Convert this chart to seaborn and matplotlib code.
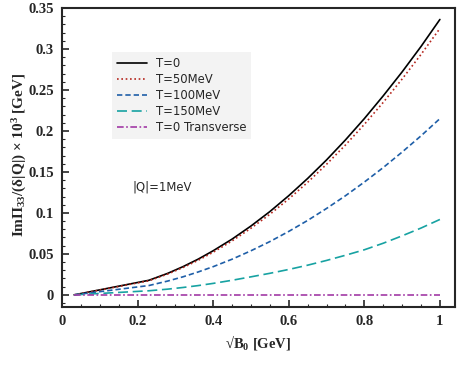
import numpy as np
import pandas as pd
import matplotlib
matplotlib.use("Agg")
import matplotlib.pyplot as plt
import seaborn as sns
from matplotlib.ticker import MultipleLocator

# ---- data ----
sqrtB0 = [0.032, 0.23, 0.28, 0.32, 0.36, 0.4, 0.45, 0.5, 0.55, 0.6,
          0.65, 0.7, 0.75, 0.8, 0.85, 0.9, 0.95, 1.0]
T0 = [0.0, 0.0178, 0.0263, 0.0344, 0.0435, 0.0538, 0.068, 0.084, 0.1016, 0.121,
      0.142, 0.1646, 0.189, 0.215, 0.2428, 0.272, 0.303, 0.336]
T50 = [0.0, 0.0172, 0.0255, 0.0333, 0.0421, 0.052, 0.0658, 0.0813, 0.0983, 0.117,
       0.1373, 0.1593, 0.1828, 0.208, 0.2348, 0.2633, 0.2933, 0.325]
T100 = [0.0, 0.0114, 0.0169, 0.022, 0.0279, 0.0344, 0.0435, 0.0538, 0.065, 0.0774,
        0.0908, 0.1054, 0.1209, 0.1376, 0.1553, 0.1742, 0.194, 0.215]
T150 = [0.0, 0.005, 0.007, 0.009, 0.0113, 0.014, 0.0178, 0.022, 0.0263, 0.031,
        0.0362, 0.042, 0.0483, 0.055, 0.063, 0.072, 0.0815, 0.092]
T0_trans = [0.0] * 18
labels = ["T=0", "T=50MeV", "T=100MeV", "T=150MeV", "T=0 Transverse"]
series = [T0, T50, T100, T150, T0_trans]

xticks = [0, 0.2, 0.4, 0.6, 0.8, 1]
xticklabels = ["0", "0.2", "0.4", "0.6", "0.8", "1"]
yticks = [0, 0.05, 0.1, 0.15, 0.2, 0.25, 0.3, 0.35]
yticklabels = ["0", "0.05", "0.1", "0.15", "0.2", "0.25", "0.3", "0.35"]

df = pd.concat([pd.DataFrame({"x": sqrtB0, "y": s, "curve": lab})
                for lab, s in zip(labels, series)], ignore_index=True)

sns.set_style("ticks")
plt.rcParams["font.family"] = ["Liberation Serif", "DejaVu Serif"]
plt.rcParams["mathtext.fontset"] = "custom"
plt.rcParams["mathtext.rm"] = "Liberation Serif:bold"
plt.rcParams["mathtext.it"] = "Liberation Serif:bold"
plt.rcParams["mathtext.bf"] = "Liberation Serif:bold"

fig = plt.figure(figsize=(4.63, 3.71), dpi=100)
ax = fig.add_axes([62/463, 1-307/371, (455-62)/463, (307-8)/371])

palette = {"T=0": "#000000", "T=50MeV": "#b5261e", "T=100MeV": "#1f5fa8",
           "T=150MeV": "#17a2a2", "T=0 Transverse": "#a23aa5"}
dashes = {"T=0": "", "T=50MeV": (1, 1.6), "T=100MeV": (3.2, 1.8),
          "T=150MeV": (6, 2.8), "T=0 Transverse": (4, 1.5, 1, 1.5)}
sns.lineplot(data=df, x="x", y="y", hue="curve", style="curve",
             palette=palette, dashes=dashes, hue_order=labels, style_order=labels,
             linewidth=1.2, ax=ax, legend=True)

ax.set_xlim(0, 1.04)
ax.set_ylim(-0.0148, 0.35)
ax.set_xticks(xticks)
ax.set_xticklabels(xticklabels)
ax.set_yticks(yticks)
ax.set_yticklabels(yticklabels)
ax.xaxis.set_minor_locator(MultipleLocator(0.05))
ax.yaxis.set_minor_locator(MultipleLocator(0.01))
ax.tick_params(which="both", direction="in", top=False, right=False)
ax.tick_params(which="major", length=5, width=1.2, labelsize=10.5, pad=6)
ax.tick_params(which="minor", length=2.5, width=0.8)
for t in ax.get_xticklabels() + ax.get_yticklabels():
    t.set_fontweight("bold")
for sp in ax.spines.values():
    sp.set_linewidth(1.5)
    sp.set_visible(True)

ax.set_xlabel("√B$_0$ [GeV]", fontsize=10.5, fontweight="bold")
ax.set_ylabel("ImΠ$_{33}$/(δ|Q|) × 10$^3$ [GeV]", fontsize=11, fontweight="bold")
ax.xaxis.set_label_coords(0.5, -0.088)
ax.yaxis.set_label_coords(-0.083, 0.508)

leg = ax.legend(loc="upper left", bbox_to_anchor=(0.127, 0.853), borderaxespad=0,
                frameon=True, handlelength=2.6, borderpad=0.45, labelspacing=0.25,
                handletextpad=0.7, prop={"family": "DejaVu Sans", "size": 8.4})
leg.get_frame().set_facecolor("#f3f3f3")
leg.get_frame().set_edgecolor("none")
leg.get_frame().set_alpha(1)
leg.get_frame().set_boxstyle("square", pad=0)
for h in leg.get_lines():
    h.set_linewidth(1.2)

ax.text(0.266, 0.132, "|Q|=1MeV", fontsize=8.4, family="DejaVu Sans",
        ha="center", va="center")

fig.savefig("out.png", dpi=100)
